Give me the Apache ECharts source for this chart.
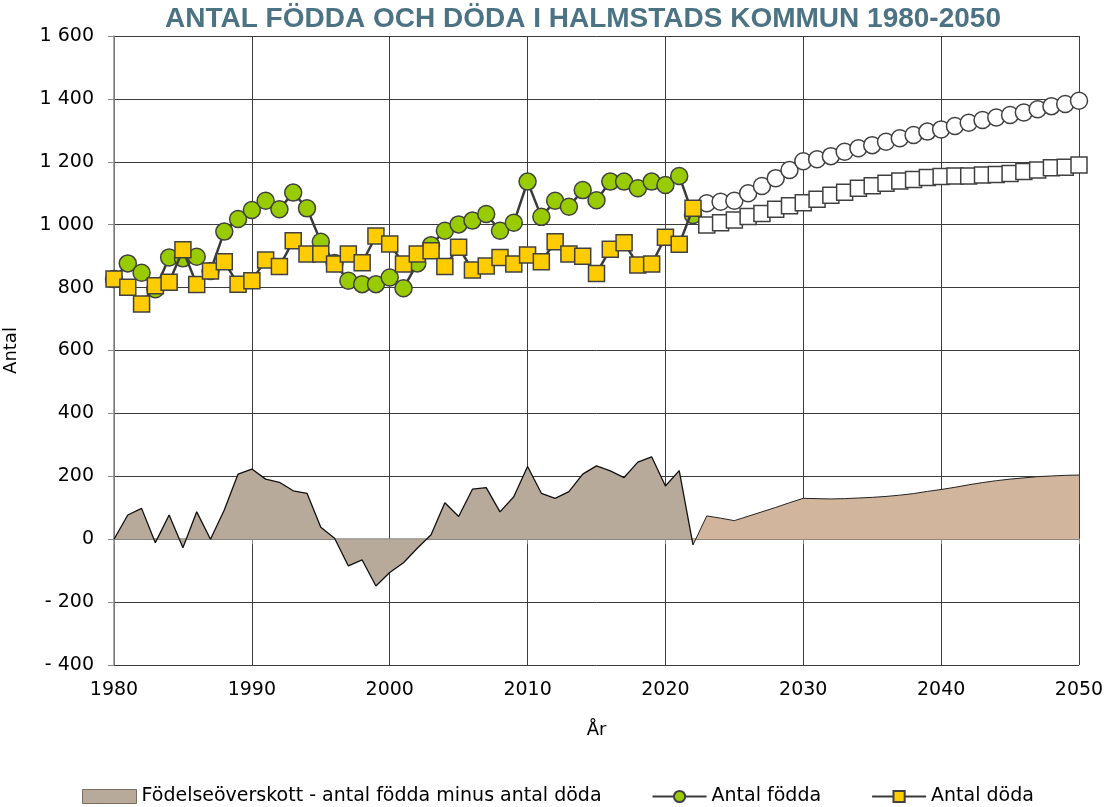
<!DOCTYPE html>
<html lang="sv">
<head>
  <meta charset="UTF-8">
  <title>Antal födda och döda i Halmstads kommun</title>
  <script src="https://cdn.jsdelivr.net/npm/echarts@6/dist/echarts.min.js"></script>
  <style>
    html, body { margin: 0; padding: 0; background: #fff; }
    #main { width: 1108px; height: 807px; }
  </style>
</head>
<body>
<div id="main"></div>
<script>
  // utfall 1980-2022
  var histYears = [];
  for (var y = 1980; y <= 2022; y++) histYears.push(y);
  var histBorn = [827, 877, 847, 795, 896, 893, 898, 853, 978, 1018,
    1047, 1076, 1049, 1102, 1052, 946, 878, 822, 811, 811,
    832, 798, 877, 935, 981, 1001, 1013, 1034, 981, 1006,
    1137, 1025, 1076, 1057, 1110, 1078, 1137, 1137, 1116, 1137,
    1126, 1155, 1031];
  var histDead = [827, 801, 748, 806, 817, 920, 810, 853, 882, 811,
    822, 888, 867, 949, 907, 907, 875, 907, 879, 964,
    939, 875, 907, 917, 867, 928, 856, 869, 896, 875,
    904, 882, 946, 907, 900, 845, 922, 943, 872, 875,
    960, 938, 1052];
  var histSurplus = [0, 77, 98, -11, 77, -27, 87, 0, 93, 207,
    223, 191, 181, 154, 146, 38, 3, -85, -66, -149,
    -106, -75, -29, 14, 116, 72, 159, 164, 87, 135,
    231, 146, 130, 151, 207, 233, 217, 196, 245, 262,
    169, 218, -18];

  // prognos 2023-2050
  var progYears = [];
  for (var y2 = 2023; y2 <= 2050; y2++) progYears.push(y2);
  var progBorn = [1068, 1073, 1076, 1100, 1123, 1148, 1174, 1202, 1208, 1218,
    1232, 1243, 1253, 1264, 1275, 1285, 1296, 1303, 1314, 1324,
    1333, 1341, 1349, 1357, 1367, 1377, 1384, 1394];
  var progDead = [999, 1006, 1015, 1026, 1036, 1049, 1060, 1070, 1081, 1094,
    1103, 1116, 1124, 1132, 1139, 1144, 1150, 1153, 1155, 1155,
    1158, 1160, 1163, 1169, 1174, 1181, 1183, 1190];
  var progSurplus = [74, 67, 59, 73, 87, 101, 116, 130, 129, 128,
    129, 131, 133, 136, 140, 145, 152, 158, 165, 173,
    180, 186, 191, 195, 199, 201, 203, 204];

  var yTicks = [-400, -200, 0, 200, 400, 600, 800, 1000, 1200, 1400, 1600];

  function pairs(xs, vs) {
    return xs.map(function (x, i) { return [x, vs[i]]; });
  }

  // prognosytan börjar vid sista utfallsåret
  var progAreaData = [[2022, histSurplus[histSurplus.length - 1]]].concat(pairs(progYears, progSurplus));

  function fmt(v) {
    var s = String(Math.abs(v)).replace(/\B(?=(\d{3})+(?!\d))/g, ' ');
    return v < 0 ? '- ' + s : s;
  }

  var FONT = 'DejaVu Sans';
  var grid = '#3c3c3c';

  var chart = echarts.init(document.getElementById('main'));
  chart.setOption({
    animation: false,
    textStyle: { fontFamily: FONT },
    title: {
      text: 'ANTAL FÖDDA OCH DÖDA I HALMSTADS KOMMUN 1980-2050',
      left: 578,
      textAlign: 'center',
      top: 0,
      textStyle: { fontFamily: 'Liberation Sans', fontWeight: 'bold', fontSize: 28, color: '#4b7383' }
    },
    grid: { left: 114, right: 29, top: 36, bottom: 142, outerBoundsMode: 'none', containLabel: false },
    legend: {
      bottom: -4,
      left: 77,
      itemGap: 50,
      itemWidth: 54,
      itemHeight: 14,
      textStyle: { fontFamily: FONT, fontSize: 19, color: '#000' },
      data: [
        { name: 'Födelseöverskott - antal födda minus antal döda', icon: 'rect',
          itemStyle: { color: '#b8aa9b', borderColor: '#7a6e62', borderWidth: 1 } },
        'Antal födda',
        'Antal döda'
      ]
    },
    xAxis: [{
      type: 'value',
      min: 1980, max: 2050, interval: 10,
      name: 'År',
      nameLocation: 'middle',
      nameGap: 56,
      nameTextStyle: { fontFamily: FONT, fontSize: 18, color: '#000' },
      axisLine: { show: false, onZero: false },
      axisTick: { show: false },
      axisLabel: { fontSize: 19, color: '#000', margin: 16, formatter: function (v) { return String(v); } },
      splitLine: { show: true, lineStyle: { color: grid, width: 1 } }
    }, {
      type: 'value',
      min: 1980, max: 2050, interval: 10,
      position: 'bottom',
      axisLine: { show: true, onZero: true, lineStyle: { color: '#8c8c8c', width: 1.5 } },
      axisTick: { show: true, inside: false, length: 5, lineStyle: { color: '#8c8c8c' } },
      axisLabel: { show: false },
      splitLine: { show: false }
    }],
    yAxis: {
      type: 'value',
      min: yTicks[0], max: yTicks[yTicks.length - 1], interval: 200,
      name: 'Antal',
      nameLocation: 'middle',
      nameGap: 94,
      nameRotate: 90,
      nameTextStyle: { fontFamily: FONT, fontSize: 18, color: '#000' },
      axisLine: { show: true, lineStyle: { color: '#8c8c8c', width: 1.5 } },
      axisTick: { show: true, length: 6, lineStyle: { color: '#8c8c8c' } },
      axisLabel: { fontSize: 19, color: '#000', margin: 20, formatter: fmt },
      splitLine: { show: true, lineStyle: { color: grid, width: 1 } }
    },
    series: [
      {
        name: 'Födelseöverskott - antal födda minus antal döda',
        type: 'line',
        xAxisIndex: 0,
        data: pairs(histYears, histSurplus),
        showSymbol: false,
        lineStyle: { color: '#111', width: 1.3 },
        itemStyle: { color: '#b8aa9b' },
        areaStyle: { color: '#b8aa9b', opacity: 1 },
        z: 1
      },
      {
        name: 'Födelseöverskott prognos',
        type: 'line',
        xAxisIndex: 0,
        data: progAreaData,
        showSymbol: false,
        lineStyle: { color: '#222', width: 1 },
        areaStyle: { color: '#d2b59d', opacity: 1 },
        z: 1
      },
      {
        name: 'Antal födda',
        type: 'line',
        xAxisIndex: 0,
        data: pairs(histYears, histBorn),
        symbol: 'circle',
        symbolSize: 17,
        lineStyle: { color: '#3a3a3a', width: 2.5 },
        itemStyle: { color: '#99cc00', borderColor: '#404040', borderWidth: 1.5 },
        z: 3
      },
      {
        name: 'Antal födda prognos',
        type: 'line',
        xAxisIndex: 0,
        data: pairs(progYears, progBorn),
        symbol: 'circle',
        symbolSize: 17,
        lineStyle: { color: '#3a3a3a', width: 1.5 },
        itemStyle: { color: '#fff', borderColor: '#404040', borderWidth: 1.5 },
        z: 3
      },
      {
        name: 'Antal döda prognos',
        type: 'line',
        xAxisIndex: 0,
        data: pairs(progYears, progDead),
        symbol: 'rect',
        symbolSize: 16,
        lineStyle: { color: '#3a3a3a', width: 1.5 },
        itemStyle: { color: '#fff', borderColor: '#404040', borderWidth: 1.5 },
        z: 4
      },
      {
        name: 'Antal döda',
        type: 'line',
        xAxisIndex: 0,
        data: pairs(histYears, histDead),
        symbol: 'rect',
        symbolSize: 16,
        lineStyle: { color: '#3a3a3a', width: 2.5 },
        itemStyle: { color: '#ffcc00', borderColor: '#404040', borderWidth: 1.5 },
        z: 5
      }
    ]
  });
</script>
</body>
</html>
